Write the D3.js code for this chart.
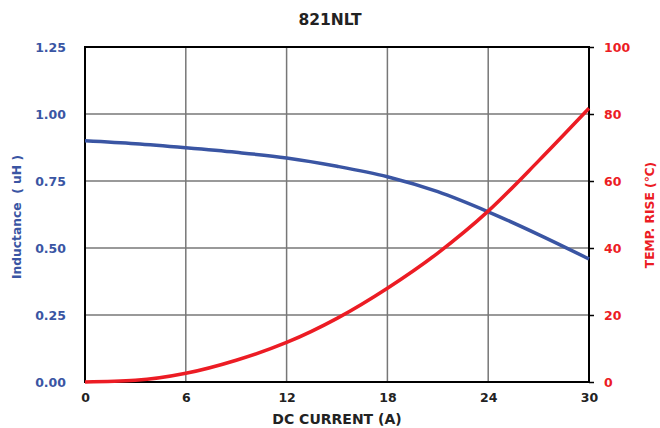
<!DOCTYPE html>
<html>
<head>
<meta charset="utf-8">
<script src="https://cdn.jsdelivr.net/npm/d3@7"></script>
<style>
  body { margin: 0; background: #fff; }
  text { font-family: "DejaVu Sans", sans-serif; font-weight: bold; }
</style>
</head>
<body>
<svg></svg>
<script>
// values
var current = [0, 3, 6, 9, 12, 15, 18, 21, 24, 27, 30];
var inductance = [0.90, 0.889, 0.874, 0.857, 0.836, 0.805, 0.766, 0.71, 0.635, 0.55, 0.459];
var tempRise = [0, 0.5, 2.6, 6.5, 11.8, 19, 28, 38.5, 51, 66, 81.7];
var xTicks = [0, 6, 12, 18, 24, 30];
var yLeftTicks = [0, 0.25, 0.5, 0.75, 1.0, 1.25];
var yRightTicks = [0, 20, 40, 60, 80, 100];

var blue = "#3a55a3", red = "#ec1c24";

var margin = {top: 47, right: 71, bottom: 46, left: 85};
var W = 660, H = 428;
var width = W - margin.left - margin.right,
    height = H - margin.top - margin.bottom;

var svg = d3.select("svg").attr("width", W).attr("height", H);
var g = svg.append("g")
    .attr("transform", "translate(" + margin.left + "," + margin.top + ")");

var x = d3.scaleLinear().domain([0, 30]).range([0, width]);
var yL = d3.scaleLinear().domain([0, 1.25]).range([height, 0]);
var yR = d3.scaleLinear().domain([0, 100]).range([height, 0]);

// grid
g.append("g").selectAll("line").data(xTicks.slice(1, -1)).enter().append("line")
    .attr("x1", function(d) { return x(d); }).attr("x2", function(d) { return x(d); })
    .attr("y1", 0).attr("y2", height)
    .attr("stroke", "#777").attr("stroke-width", 1.5);
g.append("g").selectAll("line").data(yLeftTicks.slice(1, -1)).enter().append("line")
    .attr("y1", function(d) { return yL(d); }).attr("y2", function(d) { return yL(d); })
    .attr("x1", 0).attr("x2", width)
    .attr("stroke", "#777").attr("stroke-width", 1.5);

// axes
var xAxis = g.append("g").attr("transform", "translate(0," + height + ")")
    .call(d3.axisBottom(x).tickValues(xTicks).tickSize(0).tickPadding(11));
xAxis.select(".domain").remove();
xAxis.selectAll("text").attr("fill", "#222").style("font-size", "12.5px");

var leftAxis = g.append("g")
    .call(d3.axisLeft(yL).tickValues(yLeftTicks).tickSize(0).tickPadding(19)
        .tickFormat(d3.format(".2f")));
leftAxis.select(".domain").remove();
leftAxis.selectAll("text").attr("fill", blue).style("font-size", "12.5px");

var rightAxis = g.append("g").attr("transform", "translate(" + width + ",0)")
    .call(d3.axisRight(yR).tickValues(yRightTicks).tickSizeInner(5).tickSizeOuter(0).tickPadding(10));
rightAxis.select(".domain").remove();
rightAxis.selectAll("line").attr("stroke", "#000").attr("stroke-width", 1.5);
rightAxis.selectAll("text").attr("fill", red).style("font-size", "12.5px");

// frame
g.append("rect").attr("width", width).attr("height", height)
    .attr("fill", "none").attr("stroke", "#000").attr("stroke-width", 2);

// curves
var lineL = d3.line()
    .x(function(d, i) { return x(current[i]); })
    .y(function(d) { return yL(d); })
    .curve(d3.curveMonotoneX);
var lineR = d3.line()
    .x(function(d, i) { return x(current[i]); })
    .y(function(d) { return yR(d); })
    .curve(d3.curveMonotoneX);

g.append("path").datum(inductance).attr("d", lineL)
    .attr("fill", "none").attr("stroke", blue).attr("stroke-width", 3.5);
g.append("path").datum(tempRise).attr("d", lineR)
    .attr("fill", "none").attr("stroke", red).attr("stroke-width", 3.5);

// titles
svg.append("text").attr("x", 330).attr("y", 25).attr("text-anchor", "middle")
    .attr("fill", "#222").style("font-size", "15.5px").text("821NLT");
svg.append("text").attr("x", 337).attr("y", 424).attr("text-anchor", "middle")
    .attr("fill", "#222").style("font-size", "14px").text("DC CURRENT (A)");
svg.append("text").attr("transform", "translate(21,217) rotate(-90)")
    .attr("text-anchor", "middle").attr("fill", blue).style("font-size", "12.3px")
    .text("Inductance \u00a0( uH )");
svg.append("text").attr("transform", "translate(654,215) rotate(-90)")
    .attr("text-anchor", "middle").attr("fill", red).style("font-size", "12.3px")
    .text("TEMP. RISE (\u2103)");
</script>
</body>
</html>
